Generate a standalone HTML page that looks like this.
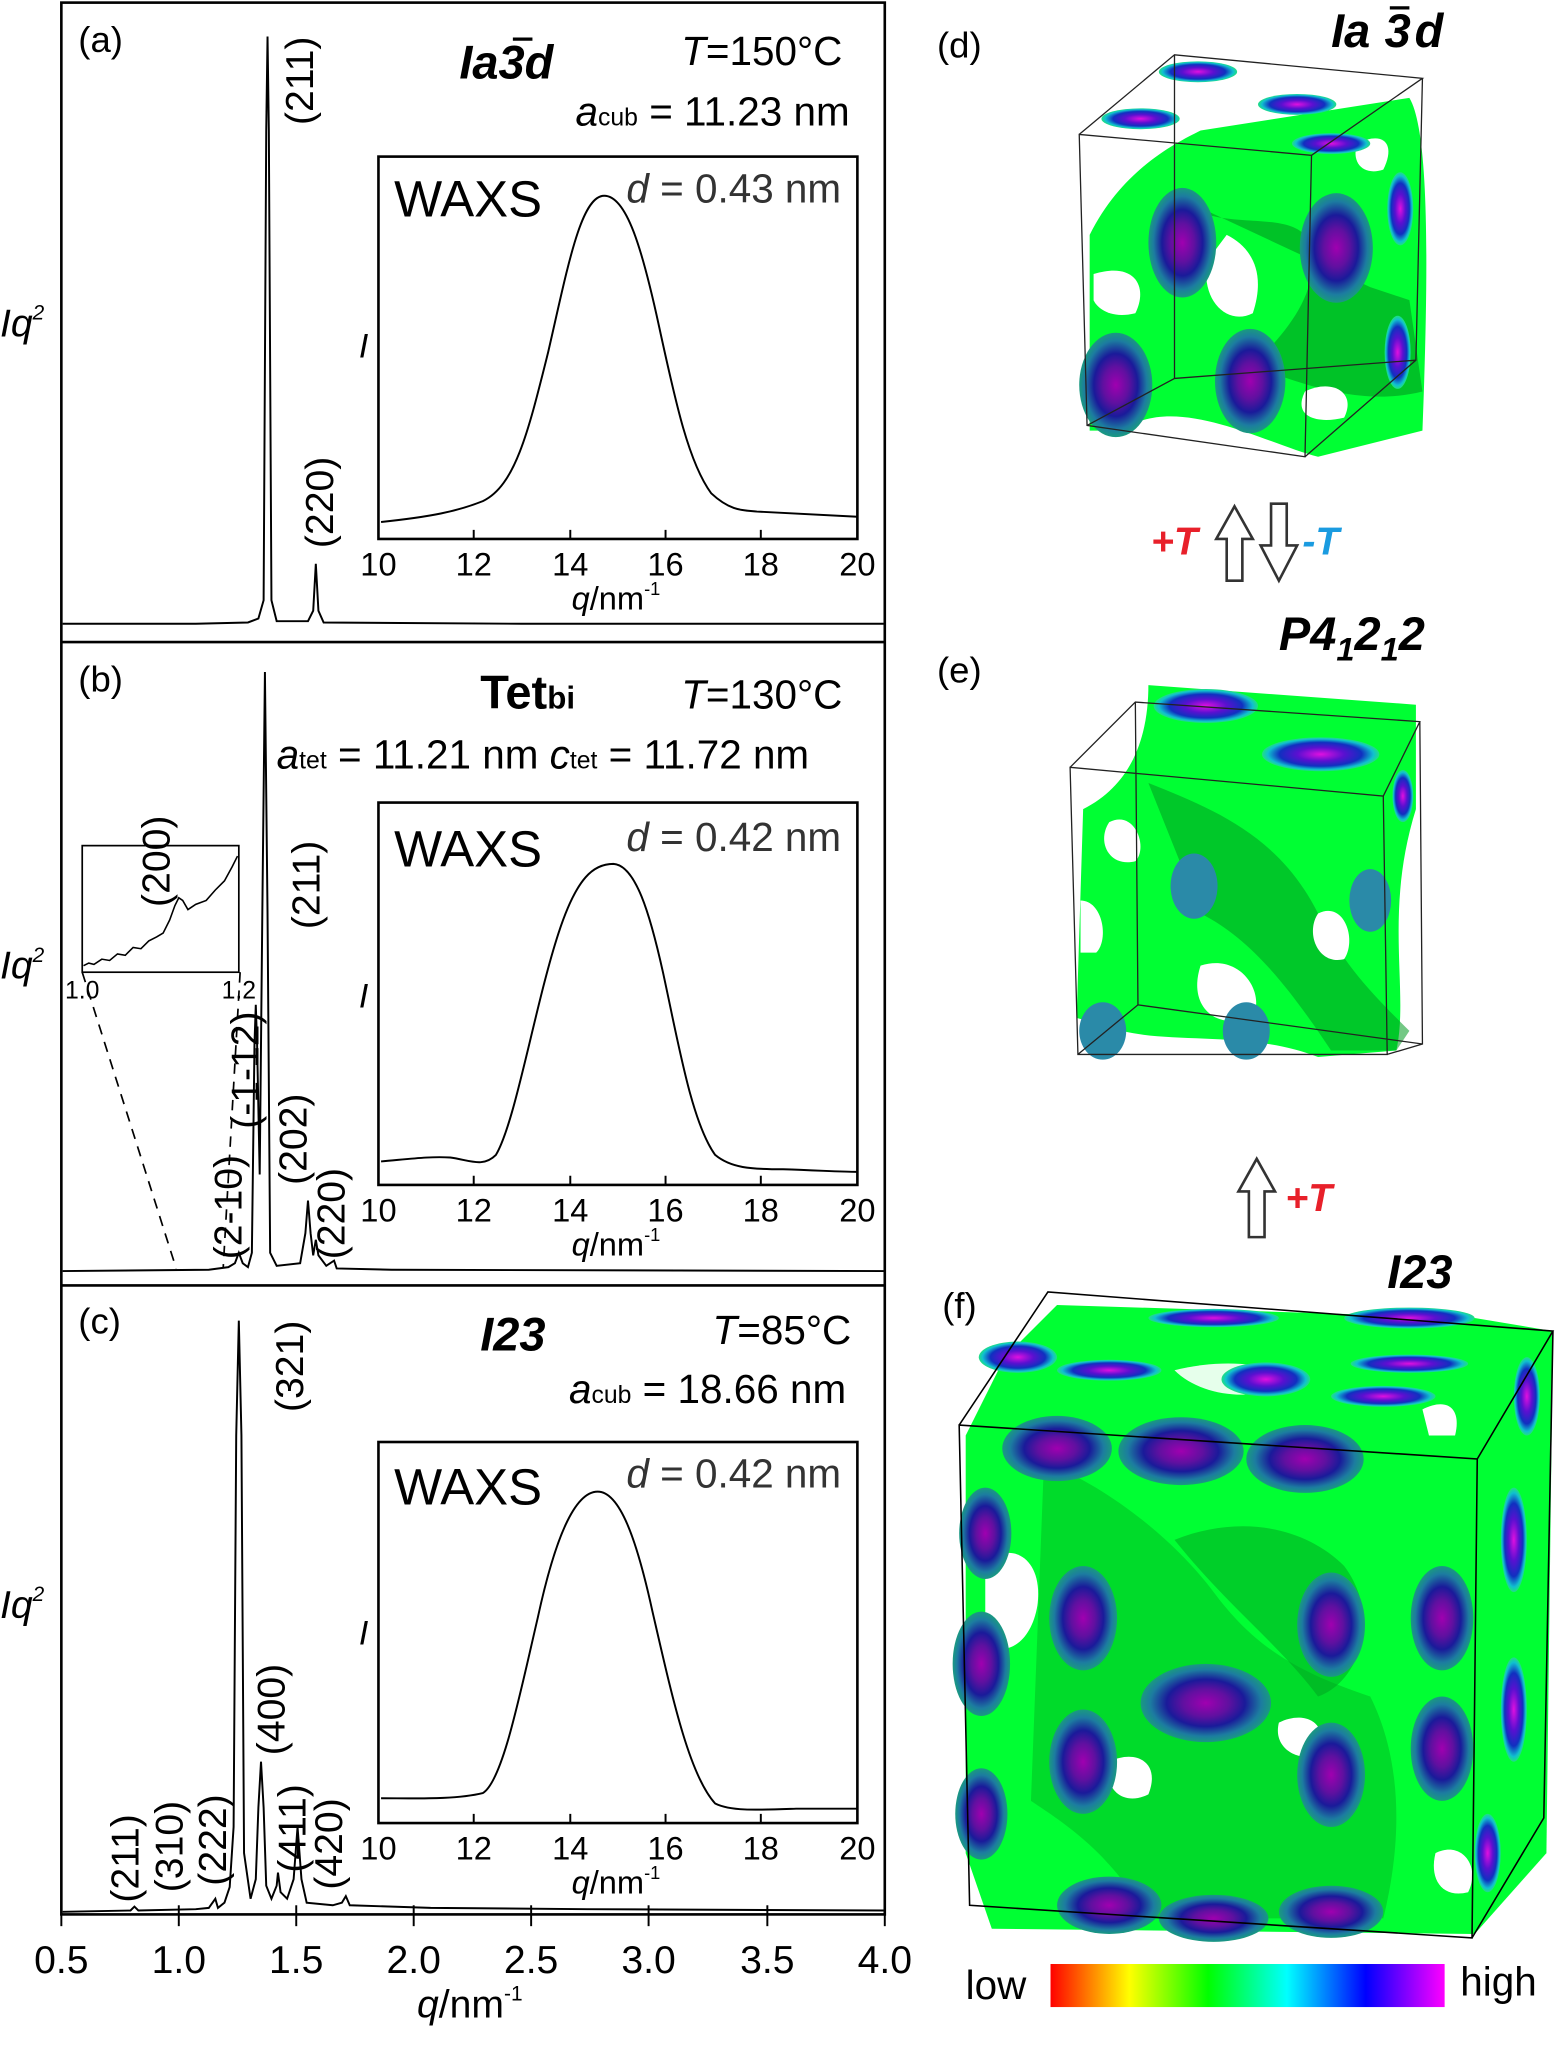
<!DOCTYPE html>
<html><head><meta charset="utf-8"><style>
html,body{margin:0;padding:0;background:#fff;}
svg{display:block;font-family:"Liberation Sans",Arial,sans-serif;}
</style></head><body>
<svg width="1566" height="2056" viewBox="0 0 1200 1575.5" xmlns="http://www.w3.org/2000/svg">
<defs>
<radialGradient id="spot"><stop offset="0" stop-color="#a000b0"/><stop offset="0.35" stop-color="#6010a0"/><stop offset="0.6" stop-color="#1a1a9a"/><stop offset="0.85" stop-color="#1c7ca0"/><stop offset="1" stop-color="#1a9a80"/></radialGradient>
<radialGradient id="spot2"><stop offset="0" stop-color="#e010e0"/><stop offset="0.4" stop-color="#5a10d0"/><stop offset="0.7" stop-color="#1030c0"/><stop offset="0.9" stop-color="#10c0d0"/><stop offset="1" stop-color="#20e080"/></radialGradient>
<linearGradient id="cbar" x1="0" x2="1"><stop offset="0" stop-color="#ff0000"/><stop offset="0.1" stop-color="#ff8000"/><stop offset="0.2" stop-color="#ffff00"/><stop offset="0.4" stop-color="#00ff00"/><stop offset="0.6" stop-color="#00ffff"/><stop offset="0.8" stop-color="#0000ff"/><stop offset="1" stop-color="#ff00ff"/></linearGradient>
</defs>

<g fill="none" stroke="#000" stroke-width="2">
<rect x="47" y="2" width="631" height="1465"/>
<line x1="47" y1="492" x2="678" y2="492"/>
<line x1="47" y1="985" x2="678" y2="985"/>
</g>
<g stroke="#000" stroke-width="1.5">
<line x1="47" y1="1467" x2="47" y2="1476"/><line x1="137" y1="1467" x2="137" y2="1476"/><line x1="227" y1="1467" x2="227" y2="1476"/><line x1="317" y1="1467" x2="317" y2="1476"/><line x1="407" y1="1467" x2="407" y2="1476"/><line x1="497" y1="1467" x2="497" y2="1476"/><line x1="588" y1="1467" x2="588" y2="1476"/><line x1="678" y1="1467" x2="678" y2="1476"/>
<line x1="137" y1="1467" x2="137" y2="1460"/><line x1="227" y1="1467" x2="227" y2="1460"/><line x1="317" y1="1467" x2="317" y2="1460"/><line x1="407" y1="1467" x2="407" y2="1460"/><line x1="497" y1="1467" x2="497" y2="1460"/><line x1="588" y1="1467" x2="588" y2="1460"/>
</g>
<g font-size="30" text-anchor="middle">
<text x="47" y="1512">0.5</text><text x="137" y="1512">1.0</text><text x="227" y="1512">1.5</text><text x="317" y="1512">2.0</text><text x="407" y="1512">2.5</text><text x="497" y="1512">3.0</text><text x="588" y="1512">3.5</text><text x="678" y="1512">4.0</text>
</g>
<text x="360" y="1546" font-size="30" text-anchor="middle"><tspan font-style="italic">q</tspan>/nm<tspan font-size="16" dy="-13">-1</tspan></text>

<g font-size="30" font-style="italic"><text x="0" y="258">Iq<tspan font-size="16" dy="-13">2</tspan></text><text x="0" y="750">Iq<tspan font-size="16" dy="-13">2</tspan></text><text x="0" y="1240">Iq<tspan font-size="16" dy="-13">2</tspan></text></g>

<g font-size="28"><text x="60" y="40">(a)</text><text x="60" y="530">(b)</text><text x="60" y="1022">(c)</text>
<text x="718" y="44">(d)</text><text x="718" y="523">(e)</text><text x="722" y="1010">(f)</text></g>

<!-- panel a -->
<text x="352" y="60" font-size="36" font-weight="bold" font-style="italic">Ia3d</text>
<line x1="393" y1="30" x2="408" y2="30" stroke="#000" stroke-width="2.5"/>
<text x="522" y="50" font-size="31"><tspan font-style="italic">T</tspan>=150°C</text>
<text x="441" y="96" font-size="31"><tspan font-style="italic">a</tspan><tspan font-size="19">cub</tspan> = 11.23 nm</text>
<path d="M48,478 L150,478 L190,477 L198,474 L202,460 L204,100 L205,28 L206,100 L208,460 L212,476 L236,476 L240,468 L242,432 L244,468 L248,477 L400,478 L677,478" fill="none" stroke="#000" stroke-width="1.5"/>
<g font-size="30"><text transform="translate(240,28) rotate(-90)" text-anchor="end">(211)</text><text transform="translate(255,420) rotate(-90)">(220)</text></g>

<!-- panel b -->
<text x="368" y="543" font-size="36" font-weight="bold">Tet<tspan font-size="24">bi</tspan></text>
<text x="522" y="543" font-size="31"><tspan font-style="italic">T</tspan>=130°C</text>
<text x="212" y="589" font-size="31"><tspan font-style="italic">a</tspan><tspan font-size="19">tet</tspan> = 11.21 nm  <tspan font-style="italic">c</tspan><tspan font-size="19">tet</tspan> = 11.72 nm</text>
<path d="M48,974 L160,973 L175,971 L180,968 L183,960 L186,968 L190,971 L193,960 L195,800 L196,770 L197,800 L199,900 L201,700 L203,515 L205,700 L207,960 L212,970 L230,968 L234,945 L236,920 L238,945 L240,962 L242,950 L244,962 L250,970 L256,966 L258,972 L300,973 L677,974" fill="none" stroke="#000" stroke-width="1.5"/>
<rect x="63" y="648" width="120" height="97" fill="#fff" stroke="#000" stroke-width="1.3"/>
<path d="M64,740 L68,738 L72,739 L78,735 L84,736 L90,731 L96,732 L102,726 L108,727 L114,721 L120,718 L125,715 L130,705 L134,694 L137,688 L140,690 L144,697 L150,693 L158,690 L165,682 L172,675 L178,664 L182,656" fill="none" stroke="#000" stroke-width="1.2"/>
<g font-size="19" text-anchor="middle"><text x="63" y="765">1.0</text><text x="183" y="765">1.2</text></g>
<line x1="63" y1="745" x2="135" y2="972" stroke="#000" stroke-width="1.3" stroke-dasharray="8,6"/>
<line x1="184" y1="745" x2="171" y2="972" stroke="#000" stroke-width="1.3" stroke-dasharray="8,6"/>
<g font-size="30">
<text transform="translate(130,695) rotate(-90)">(200)</text>
<text transform="translate(245,712) rotate(-90)">(211)</text>
<text transform="translate(198,865) rotate(-90)">(-1-12)</text>
<text transform="translate(185,965) rotate(-90)">(2-10)</text>
<text transform="translate(235,908) rotate(-90)">(202)</text>
<text transform="translate(264,965) rotate(-90)">(220)</text>
</g>

<!-- panel c -->
<text x="368" y="1035" font-size="36" font-weight="bold" font-style="italic">I23</text>
<text x="546" y="1030" font-size="31"><tspan font-style="italic">T</tspan>=85°C</text>
<text x="436" y="1075" font-size="31"><tspan font-style="italic">a</tspan><tspan font-size="19">cub</tspan> = 18.66 nm</text>
<path d="M48,1465 L100,1464 L103,1461 L106,1464 L150,1463 L160,1462 L165,1455 L167,1462 L172,1458 L176,1446 L179,1400 L181,1100 L183,1012 L185,1100 L187,1420 L192,1455 L196,1440 L198,1385 L200,1350 L202,1385 L204,1445 L208,1455 L212,1445 L213,1435 L215,1450 L220,1455 L225,1440 L228,1400 L231,1440 L235,1458 L255,1460 L262,1458 L265,1453 L268,1460 L330,1462 L450,1463 L677,1464" fill="none" stroke="#000" stroke-width="1.5"/>
<g font-size="30">
<text transform="translate(232,1012) rotate(-90)" text-anchor="end">(321)</text>
<text transform="translate(106,1458) rotate(-90)">(211)</text>
<text transform="translate(140,1450) rotate(-90)">(310)</text>
<text transform="translate(173,1445) rotate(-90)">(222)</text>
<text transform="translate(218,1345) rotate(-90)">(400)</text>
<text transform="translate(234,1435) rotate(-90)">(411)</text>
<text transform="translate(262,1448) rotate(-90)">(420)</text>
</g>

<!-- insets -->
<rect x="290" y="120" width="367" height="293" fill="#fff" stroke="#000" stroke-width="2"/>
<rect x="290" y="615" width="367" height="293" fill="#fff" stroke="#000" stroke-width="2"/>
<rect x="290" y="1105" width="367" height="292" fill="#fff" stroke="#000" stroke-width="2"/>
<g stroke="#000" stroke-width="1.5">
<path d="M363,413v-7M437,413v-7M510,413v-7M583,413v-7M363,908v-7M437,908v-7M510,908v-7M583,908v-7M363,1397v-7M437,1397v-7M510,1397v-7M583,1397v-7"/>
</g>
<g font-size="25" text-anchor="middle">
<text x="290" y="441">10</text><text x="363" y="441">12</text><text x="437" y="441">14</text><text x="510" y="441">16</text><text x="583" y="441">18</text><text x="657" y="441">20</text>
<text x="290" y="936">10</text><text x="363" y="936">12</text><text x="437" y="936">14</text><text x="510" y="936">16</text><text x="583" y="936">18</text><text x="657" y="936">20</text>
<text x="290" y="1425">10</text><text x="363" y="1425">12</text><text x="437" y="1425">14</text><text x="510" y="1425">16</text><text x="583" y="1425">18</text><text x="657" y="1425">20</text>
<text x="472" y="467"><tspan font-style="italic">q</tspan>/nm<tspan font-size="14" dy="-11">-1</tspan></text>
<text x="472" y="962"><tspan font-style="italic">q</tspan>/nm<tspan font-size="14" dy="-11">-1</tspan></text>
<text x="472" y="1451"><tspan font-style="italic">q</tspan>/nm<tspan font-size="14" dy="-11">-1</tspan></text>
</g>
<g font-size="26" font-style="italic"><text x="275" y="274">I</text><text x="275" y="772">I</text><text x="275" y="1260">I</text></g>
<g font-size="39"><text x="302" y="166">WAXS</text><text x="302" y="664">WAXS</text><text x="302" y="1153">WAXS</text></g>
<g font-size="31" fill="#333"><text x="480" y="155"><tspan font-style="italic">d</tspan> = 0.43 nm</text><text x="480" y="652"><tspan font-style="italic">d</tspan> = 0.42 nm</text><text x="480" y="1140"><tspan font-style="italic">d</tspan> = 0.42 nm</text></g>
<g fill="none" stroke="#000" stroke-width="1.5">
<path d="M292,400 C330,396 350,392 370,384 C395,372 405,330 420,270 C435,205 445,150 463,150 C480,150 492,190 505,250 C518,310 528,355 545,378 C560,392 570,391 580,392 L657,396"/>
<path d="M292,890 C315,888 330,886 345,887 C360,889 370,895 380,885 C395,860 410,770 428,715 C442,672 455,662 470,662 C487,663 498,700 508,745 C520,800 530,860 548,885 C560,895 575,896 600,896 C630,897 645,898 657,898"/>
<path d="M292,1378 C320,1378 350,1379 370,1374 C385,1365 398,1300 412,1240 C425,1180 440,1143 458,1143 C475,1143 488,1180 500,1235 C515,1300 528,1360 548,1382 C560,1388 580,1387 610,1386 C635,1386 650,1386 657,1386"/>
</g>

<!-- cube d -->
<text x="1020" y="36" font-size="36" font-weight="bold" font-style="italic">Ia</text>
<text x="1061" y="36" font-size="36" font-weight="bold" font-style="italic">3</text>
<text x="1084" y="36" font-size="36" font-weight="bold" font-style="italic">d</text>
<line x1="1065" y1="6" x2="1080" y2="6" stroke="#000" stroke-width="2.5"/>
<g>
<path d="M835,180 C860,130 900,110 920,100 L1080,75 C1095,100 1095,200 1090,330 L1010,350 C970,340 900,300 860,330 L835,330 Z" fill="#00ff33"/>
<path d="M900,150 C930,180 980,160 1000,180 C1020,220 980,260 960,280 C1010,300 1050,310 1090,300 L1080,230 L1050,220 Z" fill="#009a20" opacity="0.6"/>
<path d="M940,180 C960,190 970,210 960,240 C940,250 920,230 925,200 Z" fill="#fff"/>
<path d="M838,210 C870,200 880,220 870,240 C850,245 840,235 838,230 Z" fill="#fff"/>
<path d="M1000,300 C1020,290 1040,300 1030,320 C1010,325 990,320 1000,300 Z" fill="#fff"/>
<path d="M1040,110 C1060,100 1070,110 1060,130 C1045,135 1035,125 1040,110 Z" fill="#fff"/>
<ellipse cx="855" cy="295" rx="28" ry="40" fill="url(#spot)"/>
<ellipse cx="906" cy="186" rx="26" ry="42" fill="url(#spot)"/>
<ellipse cx="958" cy="292" rx="27" ry="40" fill="url(#spot)"/>
<ellipse cx="1024" cy="190" rx="28" ry="42" fill="url(#spot)"/>
<ellipse cx="1073" cy="160" rx="10" ry="28" fill="url(#spot2)"/>
<ellipse cx="1071" cy="270" rx="10" ry="28" fill="url(#spot2)"/>
<ellipse cx="918" cy="55" rx="30" ry="8" fill="url(#spot2)"/>
<ellipse cx="994" cy="80" rx="30" ry="8" fill="url(#spot2)"/>
<ellipse cx="1020" cy="110" rx="30" ry="8" fill="url(#spot2)"/>
<ellipse cx="874" cy="91" rx="30" ry="8" fill="url(#spot2)"/>
</g>
<g fill="none" stroke="#222" stroke-width="1">
<path d="M827,103 L1005,119 L1000,350 L833,326 Z M827,103 L900,42 L1090,60 L1005,119 M1090,60 L1085,276 L1000,350 M900,42 L900,290 L833,326 M900,290 L1085,276"/>
</g>

<!-- arrows -->
<text x="882" y="425" font-size="30" font-weight="bold" font-style="italic" fill="#e8202a">+T</text>
<text x="998" y="425" font-size="30" font-weight="bold" font-style="italic" fill="#1a9be0">-T</text>
<path d="M946,388 L960,413 L952,413 L952,445 L940,445 L940,413 L932,413 Z" fill="#fff" stroke="#333" stroke-width="2"/>
<path d="M974,386 L986,386 L986,418 L994,418 L980,445 L966,418 L974,418 Z" fill="#fff" stroke="#333" stroke-width="2"/>
<path d="M963,888 L977,913 L969,913 L969,948 L957,948 L957,913 L949,913 Z" fill="#fff" stroke="#333" stroke-width="2"/>
<text x="985" y="928" font-size="30" font-weight="bold" font-style="italic" fill="#e8202a">+T</text>

<!-- cube e -->
<text x="980" y="498" font-size="36" font-weight="bold" font-style="italic">P4<tspan font-size="25" dy="8">1</tspan><tspan dy="-8">2</tspan><tspan font-size="25" dy="8">1</tspan><tspan dy="-8">2</tspan></text>
<g>
<path d="M830,620 C870,600 880,560 880,525 L1085,540 L1085,620 C1060,700 1080,760 1070,805 L1010,810 C960,790 900,800 860,790 L825,780 Z" fill="#00ff33"/>
<path d="M880,600 C930,620 980,640 1010,700 C1030,740 1050,760 1080,790 L1070,805 L1020,805 C990,760 960,720 920,700 Z" fill="#009a20" opacity="0.55"/>
<path d="M850,630 C870,620 880,650 870,660 C850,665 840,645 850,630 Z" fill="#fff"/>
<path d="M920,740 C950,730 970,760 960,780 C930,790 910,770 920,740 Z" fill="#fff"/>
<path d="M1010,700 C1030,690 1040,720 1030,735 C1010,740 1000,715 1010,700 Z" fill="#fff"/>
<path d="M828,690 C845,690 850,720 840,730 L828,730 Z" fill="#fff"/>
<ellipse cx="924" cy="541" rx="40" ry="13" fill="url(#spot2)"/>
<ellipse cx="1012" cy="578" rx="45" ry="13" fill="url(#spot2)"/>
<ellipse cx="915" cy="679" rx="18" ry="25" fill="#2a8aa8"/>
<ellipse cx="1050" cy="690" rx="16" ry="24" fill="#2a8aa8"/>
<ellipse cx="845" cy="790" rx="18" ry="22" fill="#2a8aa8"/>
<ellipse cx="955" cy="790" rx="18" ry="22" fill="#2a8aa8"/>
<ellipse cx="1075" cy="610" rx="8" ry="20" fill="url(#spot2)"/>
</g>
<g fill="none" stroke="#222" stroke-width="1">
<path d="M820,588 L1060,610 L1063,808 L826,808 Z M820,588 L870,538 L1088,553 L1060,610 M1088,553 L1090,800 L1063,808 M870,538 L872,770 L826,808 M872,770 L1090,800"/>
</g>

<!-- cube f -->
<text x="1063" y="987" font-size="36" font-weight="bold" font-style="italic">I23</text>
<g>
<path d="M760,1060 L770,1040 L810,1000 L1130,1010 L1190,1020 L1185,1420 L1130,1482 L760,1478 L740,1420 L740,1100 Z" fill="#00ff33"/>
<path d="M800,1120 C850,1140 900,1180 930,1220 C960,1260 990,1280 1050,1300 C1080,1360 1070,1430 1060,1470 L880,1470 C850,1420 820,1400 790,1380 Z" fill="#00b020" opacity="0.45"/>
<path d="M900,1180 C950,1160 1000,1170 1030,1200 C1060,1240 1040,1290 1010,1300 C980,1260 940,1230 900,1180 Z" fill="#00a020" opacity="0.5"/>
<path d="M755,1200 C770,1180 800,1190 795,1230 C790,1260 770,1270 755,1260 Z" fill="#fff"/>
<path d="M850,1350 C870,1340 890,1350 880,1375 C860,1385 845,1370 850,1350 Z" fill="#fff"/>
<path d="M1100,1420 C1120,1410 1135,1430 1125,1450 C1105,1455 1095,1440 1100,1420 Z" fill="#fff"/>
<path d="M980,1320 C1000,1310 1020,1320 1010,1345 C995,1350 975,1340 980,1320 Z" fill="#fff"/>
<path d="M1090,1080 C1110,1070 1120,1080 1115,1100 L1095,1100 Z" fill="#fff"/>
<path d="M900,1050 C940,1040 980,1045 990,1060 C960,1075 920,1070 900,1050 Z" fill="#fff" opacity="0.9"/>
<ellipse cx="810" cy="1110" rx="42" ry="25" fill="url(#spot)"/>
<ellipse cx="905" cy="1112" rx="48" ry="26" fill="url(#spot)"/>
<ellipse cx="1000" cy="1118" rx="45" ry="26" fill="url(#spot)"/>
<ellipse cx="755" cy="1175" rx="20" ry="35" fill="url(#spot)"/>
<ellipse cx="752" cy="1275" rx="22" ry="40" fill="url(#spot)"/>
<ellipse cx="752" cy="1390" rx="20" ry="35" fill="url(#spot)"/>
<ellipse cx="830" cy="1240" rx="26" ry="40" fill="url(#spot)"/>
<ellipse cx="830" cy="1350" rx="26" ry="40" fill="url(#spot)"/>
<ellipse cx="924" cy="1305" rx="50" ry="30" fill="url(#spot)"/>
<ellipse cx="1020" cy="1245" rx="26" ry="40" fill="url(#spot)"/>
<ellipse cx="1020" cy="1360" rx="26" ry="40" fill="url(#spot)"/>
<ellipse cx="1105" cy="1240" rx="24" ry="40" fill="url(#spot)"/>
<ellipse cx="1105" cy="1340" rx="24" ry="40" fill="url(#spot)"/>
<ellipse cx="850" cy="1460" rx="40" ry="22" fill="url(#spot)"/>
<ellipse cx="930" cy="1470" rx="42" ry="18" fill="url(#spot)"/>
<ellipse cx="1020" cy="1465" rx="40" ry="20" fill="url(#spot)"/>
<ellipse cx="970" cy="1057" rx="34" ry="13" fill="url(#spot2)"/>
<ellipse cx="1080" cy="1010" rx="50" ry="8" fill="url(#spot2)"/>
<ellipse cx="930" cy="1010" rx="50" ry="7" fill="url(#spot2)"/>
<ellipse cx="850" cy="1050" rx="40" ry="8" fill="url(#spot2)"/>
<ellipse cx="1060" cy="1070" rx="40" ry="8" fill="url(#spot2)"/>
<ellipse cx="1080" cy="1045" rx="45" ry="7" fill="url(#spot2)"/>
<ellipse cx="780" cy="1040" rx="30" ry="12" fill="url(#spot2)"/>
<ellipse cx="1170" cy="1070" rx="10" ry="30" fill="url(#spot2)"/>
<ellipse cx="1160" cy="1180" rx="10" ry="40" fill="url(#spot2)"/>
<ellipse cx="1160" cy="1310" rx="10" ry="40" fill="url(#spot2)"/>
<ellipse cx="1140" cy="1420" rx="10" ry="30" fill="url(#spot2)"/>
</g>
<g fill="none" stroke="#000" stroke-width="1.2">
<path d="M735,1092 L1132,1118 L1128,1485 L743,1460 Z M735,1092 L803,990 L1190,1020 L1132,1118 M1190,1020 L1183,1393 L1128,1485"/>
</g>

<rect x="805" y="1505" width="302" height="33" fill="url(#cbar)"/>
<text x="740" y="1532" font-size="31">low</text>
<text x="1119" y="1529" font-size="31">high</text>
</svg>
</body></html>
